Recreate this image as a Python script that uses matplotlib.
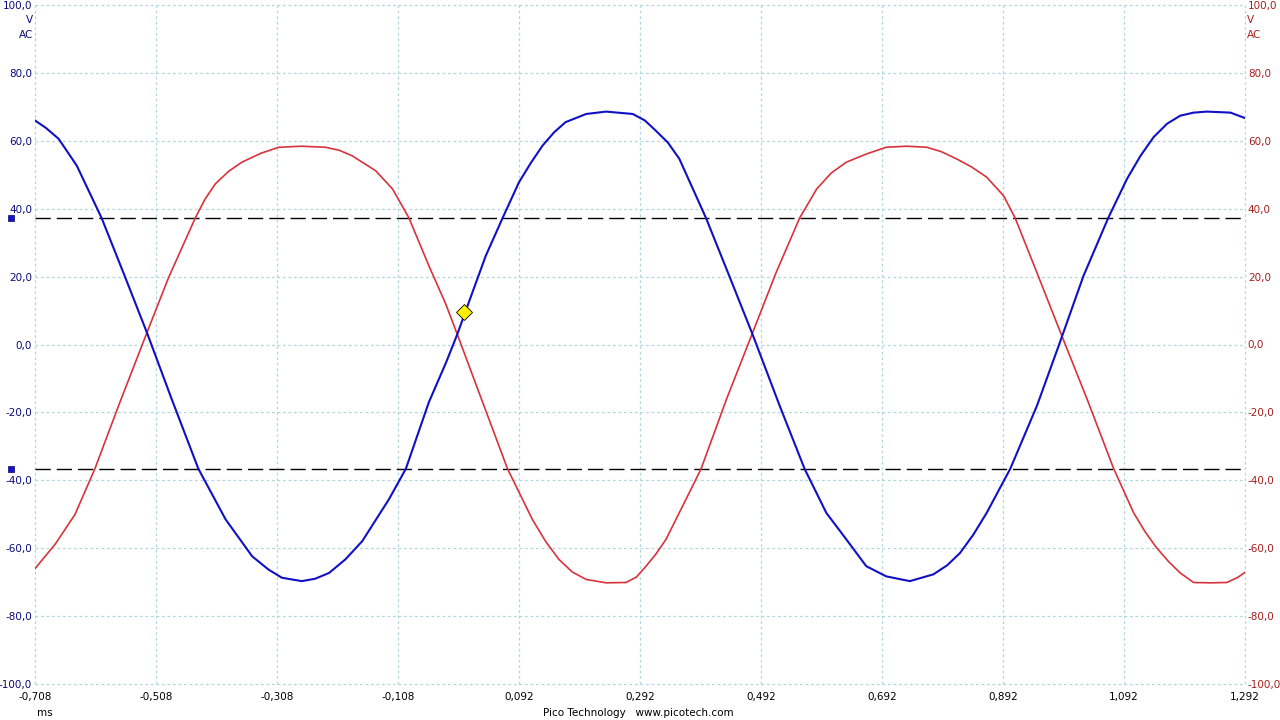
import numpy as np
import matplotlib
matplotlib.use("Agg")
import matplotlib.pyplot as plt

# channel A (blue): time in ms, volts
blue_t = [-0.708, -0.690, -0.669, -0.639, -0.598, -0.562, -0.523, -0.482, -0.438, -0.393,
          -0.349, -0.322, -0.300, -0.267, -0.245, -0.222, -0.195, -0.167, -0.123, -0.095,
          -0.057, -0.029, -0.010, 0.009, 0.037, 0.065, 0.092, 0.112, 0.131, 0.150,
          0.169, 0.203, 0.236, 0.280, 0.300, 0.318, 0.338, 0.357, 0.401, 0.440,
          0.478, 0.523, 0.564, 0.600, 0.633, 0.666, 0.699, 0.738, 0.777, 0.800,
          0.821, 0.843, 0.865, 0.904, 0.948, 0.986, 1.025, 1.066, 1.097, 1.119,
          1.141, 1.163, 1.185, 1.207, 1.229, 1.268, 1.292]
blue_v = [66.0, 63.8, 60.6, 52.7, 37.3, 21.2, 3.5, -16.1, -36.6, -51.5,
          -62.4, -66.3, -68.7, -69.7, -69.0, -67.3, -63.3, -57.9, -45.6, -36.6,
          -17.0, -5.5, 3.0, 12.4, 26.1, 37.3, 47.8, 53.6, 58.6, 62.5,
          65.5, 67.9, 68.6, 67.9, 66.0, 63.0, 59.5, 54.7, 37.3, 20.0,
          3.0, -18.1, -36.6, -49.6, -57.4, -65.3, -68.3, -69.7, -67.7, -65.0,
          -61.4, -56.0, -49.6, -36.6, -18.1, 0.6, 20.2, 37.3, 48.8, 55.5,
          61.1, 65.0, 67.4, 68.3, 68.6, 68.3, 66.7]

# channel B (red)
red_t = [-0.708, -0.675, -0.642, -0.609, -0.570, -0.523, -0.487, -0.443, -0.427, -0.410,
         -0.388, -0.366, -0.335, -0.305, -0.267, -0.228, -0.205, -0.184, -0.145, -0.117,
         -0.090, -0.057, -0.029, -0.010, 0.026, 0.073, 0.114, 0.136, 0.158, 0.180,
         0.203, 0.236, 0.269, 0.286, 0.302, 0.318, 0.335, 0.368, 0.393, 0.435,
         0.476, 0.517, 0.556, 0.584, 0.608, 0.633, 0.666, 0.699, 0.733, 0.766,
         0.790, 0.815, 0.840, 0.865, 0.893, 0.912, 0.948, 0.986, 1.031, 1.075,
         1.108, 1.127, 1.146, 1.166, 1.185, 1.207, 1.235, 1.262, 1.280, 1.292]
red_v = [-66.0, -58.9, -50.1, -36.6, -18.1, 3.5, 19.8, 37.3, 42.8, 47.3,
         51.0, 53.7, 56.3, 58.1, 58.4, 58.1, 57.2, 55.6, 51.2, 45.8,
         37.3, 23.2, 11.9, 3.0, -14.2, -36.6, -51.5, -58.0, -63.3, -67.0,
         -69.2, -70.2, -70.1, -68.5, -65.3, -61.8, -57.4, -45.6, -36.6, -16.1,
         2.5, 21.2, 37.3, 45.8, 50.5, 53.7, 56.1, 58.1, 58.4, 58.1,
         56.8, 54.7, 52.3, 49.3, 43.8, 37.3, 21.2, 4.0, -16.1, -36.6,
         -49.6, -55.2, -59.9, -64.0, -67.3, -70.1, -70.2, -70.1, -68.6, -67.1]

rulers = [37.2, -36.6]
trigger = (0.001, 9.7)
x_ticks = [-0.708, -0.508, -0.308, -0.108, 0.092, 0.292, 0.492, 0.692, 0.892, 1.092, 1.292]
y_ticks = [-100, -80, -60, -40, -20, 0, 20, 40, 60, 80, 100]

BLUE = '#1010C4'
RED = '#D8333B'
GRID = '#B2D6DD'

def comma(v, n):
    return f'{v:.{n}f}'.replace('.', ',')

plt.rcParams['font.family'] = ['DejaVu Sans']
fig = plt.figure(figsize=(12.8, 7.2), dpi=100)
ax = fig.add_axes([35/1280, 1 - 684/720, 1210/1280, 679/720])
ax.set_xlim(x_ticks[0], x_ticks[-1])
ax.set_ylim(-100, 100)

for t in x_ticks:
    ax.axvline(t, color=GRID, lw=0.9, ls=(0, (2.2, 2.2)), clip_on=False, zorder=0)
for v in y_ticks:
    ax.axhline(v, color=GRID, lw=0.9, ls=(0, (2.2, 2.2)), clip_on=False, zorder=0)

for r in rulers:
    ax.axhline(r, color='black', lw=1, ls=(0, (11, 4.3)), zorder=1)
    ax.plot([-0.700 - 29/604], [r], marker='s', ms=5, color='#1414C8',
            mec='#000060', mew=0.5, clip_on=False)

ax.plot(red_t, red_v, color=RED, lw=1.2, zorder=2)
ax.plot(blue_t, blue_v, color=BLUE, lw=1.5, zorder=3)
ax.plot([trigger[0]], [trigger[1]], marker='D', ms=8, color='#FFF200',
        mec='black', mew=0.6, zorder=4)

for s in ax.spines.values():
    s.set_visible(False)

ax.set_xticks(x_ticks)
ax.set_xticklabels([comma(t, 3) for t in x_ticks])
ax.set_yticks(y_ticks)
ax.set_yticklabels([comma(v, 1) for v in y_ticks])
ax.tick_params(axis='x', length=0, pad=6, labelsize=7.5, colors='black')
ax.tick_params(axis='y', length=0, pad=2, labelsize=7.5, labelcolor='#0A0A7A')

ax2 = ax.twinx()
ax2.set_ylim(-100, 100)
ax2.set_yticks(y_ticks)
ax2.set_yticklabels([comma(v, 1) for v in y_ticks])
ax2.tick_params(axis='y', length=0, pad=2, labelsize=7.5, labelcolor='#A51E1E')
for s in ax2.spines.values():
    s.set_visible(False)

fig.text(33/1280, 1 - 20/720, 'V', ha='right', va='center', fontsize=7.5, color='#0A0A7A')
fig.text(33/1280, 1 - 35/720, 'AC', ha='right', va='center', fontsize=7.5, color='#0A0A7A')
fig.text(1247/1280, 1 - 20/720, 'V', ha='left', va='center', fontsize=7.5, color='#A51E1E')
fig.text(1247/1280, 1 - 35/720, 'AC', ha='left', va='center', fontsize=7.5, color='#A51E1E')
fig.text(37/1280, 1 - 713/720, 'ms', ha='left', va='center', fontsize=7.5)
fig.text(638/1280, 1 - 713/720, 'Pico Technology   www.picotech.com', ha='center',
         va='center', fontsize=7.5)

fig.savefig('out.png', dpi=100)
